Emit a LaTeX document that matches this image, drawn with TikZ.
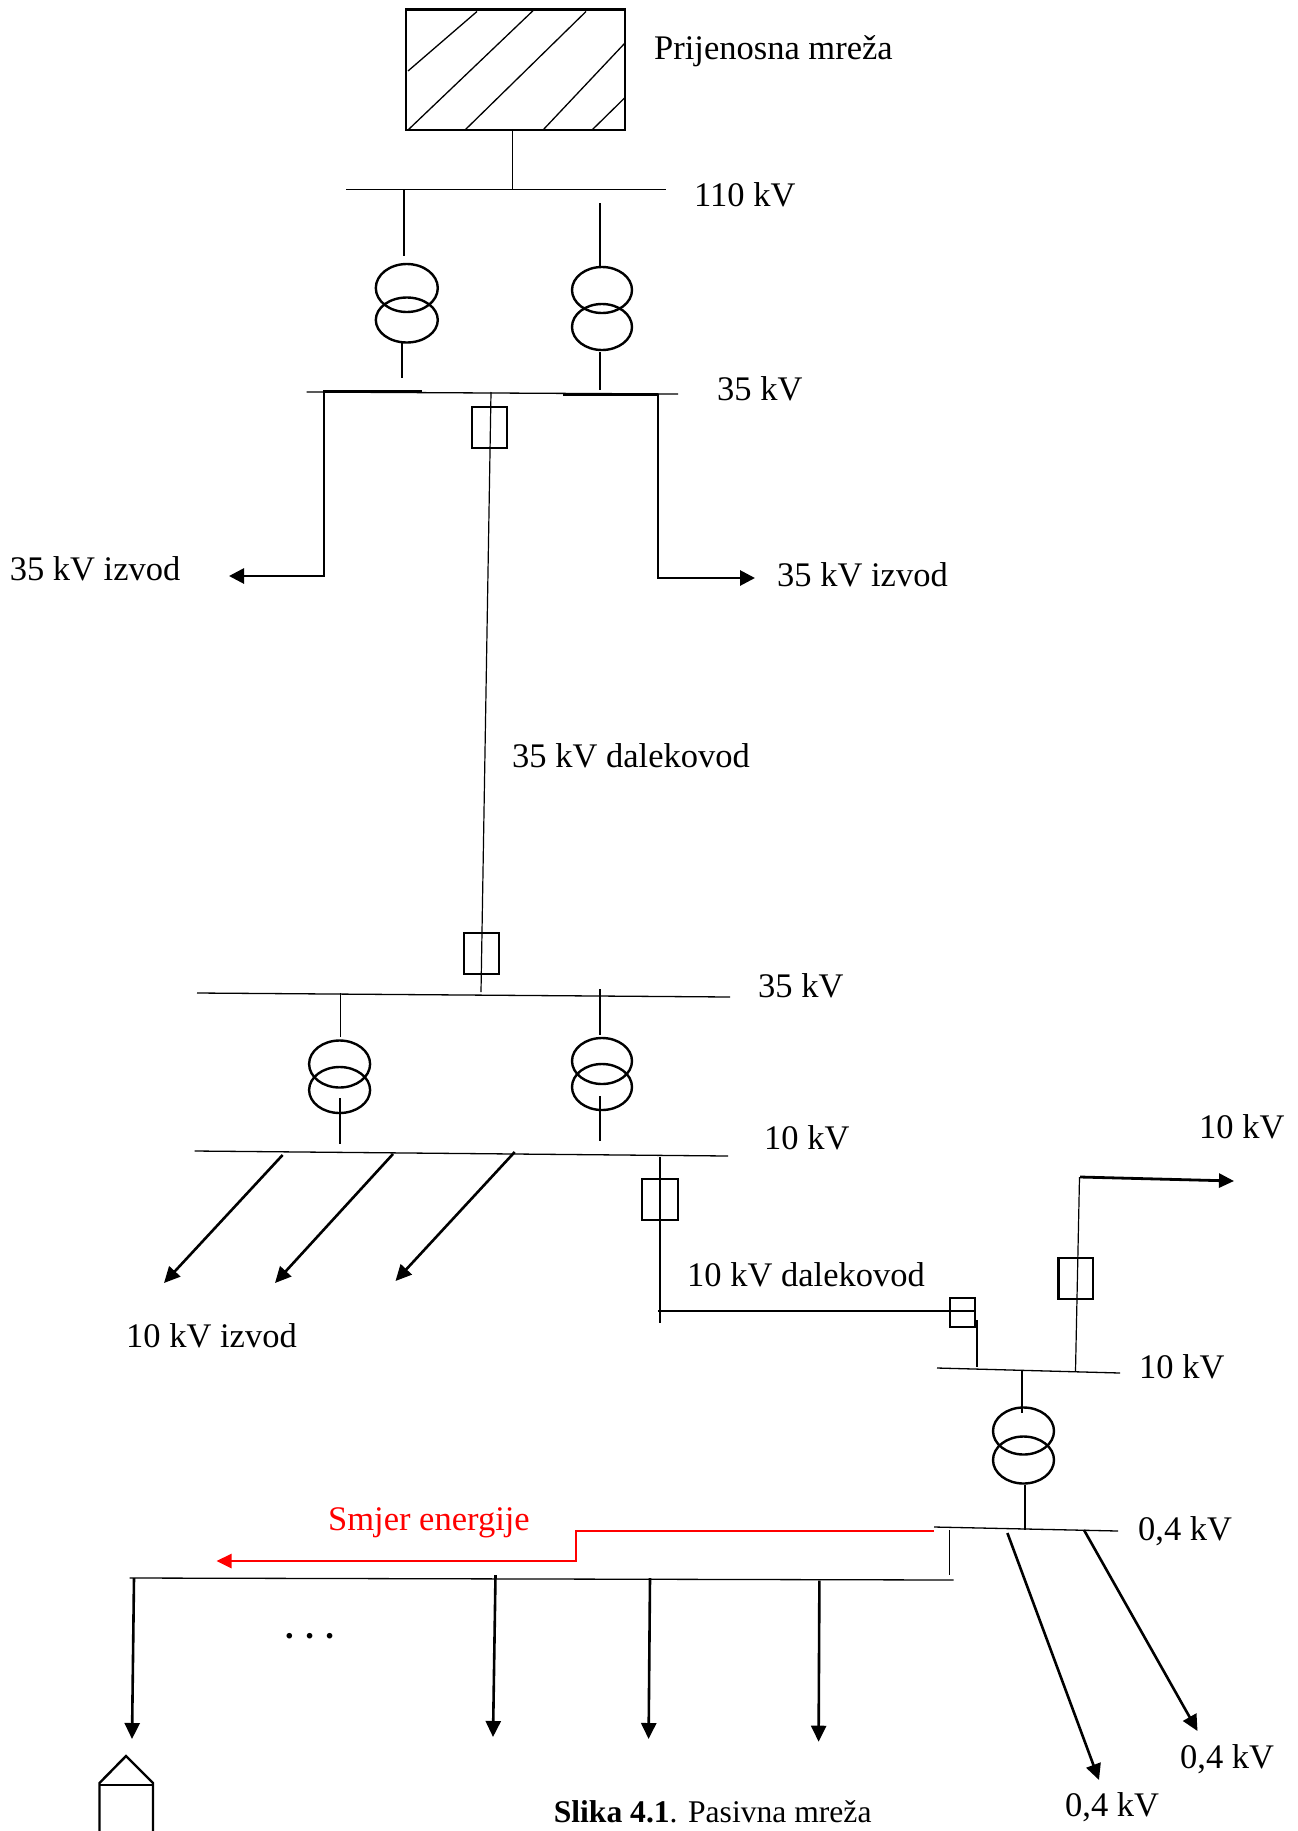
\documentclass[tikz,border=0pt]{standalone}
\usepackage{fontspec}
\setmainfont{Liberation Serif}
\usetikzlibrary{arrows.meta}
\begin{document}
\begin{tikzpicture}[x=1pt,y=-1pt,
  bus/.style={line width=1.3pt},
  wire/.style={line width=1.2pt},
  heavy/.style={line width=2.8pt},
  trafo/.style={line width=2.4pt},
  brk/.style={draw,rectangle,line width=2.4pt,inner sep=0pt},
  lbl/.style={anchor=base west,inner sep=0pt,font=\fontsize{34.5}{40}\selectfont},
  arr/.style={-{Triangle[length=16pt,width=15pt]},line width=2.6pt},
  redarr/.style={-{Triangle[length=15pt,width=14pt]},line width=2.5pt,draw=red}]
\fill[white] (0,0) rectangle (1298,1831);
\useasboundingbox (0,0) rectangle (1298,1831);

% ---------- transmission network ----------
\node[draw,rectangle,line width=2.8pt,inner sep=0pt,minimum width=219pt,minimum height=120.4pt] (grid) at (515.5,69.8) {};
\draw[line width=1.3pt] (408,71) -- (477,11.5)
  (408,130) -- (533,10.7)
  (465,130) -- (586,11.5)
  (543,130) -- (625,43)
  (592,130) -- (625,97.6);
\node[lbl] (lgrid) at (654,59) {Prijenosna mreža};

% 110 kV bus
\coordinate (b110a) at (346,189.5);
\coordinate (b110b) at (665.5,189.5);
\draw[bus] (b110a) -- (b110b);
\draw[wire] (grid.south -| 512.4,0) -- (512.4,189.5);
\node[lbl] (l110) at (694,206.7) {110 kV};

% transformers 110/35
\draw[wire] (404,190) -- (404,256);
\draw[trafo] (406.8,288) ellipse [x radius=31pt,y radius=24pt];
\draw[trafo] (406.8,320) ellipse [x radius=31pt,y radius=22.5pt];
\draw[wire] (402,343) -- (402,378);

\draw[wire] (600,203) -- (600,266);
\draw[trafo] (602,290) ellipse [x radius=30pt,y radius=23pt];
\draw[trafo] (602,327) ellipse [x radius=30pt,y radius=23pt];
\draw[wire] (600,352) -- (600,389.5);

% 35 kV bus (top)
\coordinate (b35a) at (306.7,392);
\coordinate (b35b) at (678,394);
\draw[bus] (b35a) -- (b35b);
\draw[heavy] (323,391.7) -- (422,391.7);
\draw[heavy] (563,394.3) -- (658,394.3);
\node[lbl] (l35a) at (717,400) {35 kV};

% 35 kV feeders
\draw[heavy,-{Triangle[length=15pt,width=15pt]}] (324,391.7) -- (324,576) -- (229,576);
\draw[heavy,-{Triangle[length=15pt,width=15pt]}] (658,394.3) -- (658,578) -- (755,578);
\node[lbl] (liz1) at (9.6,580) {35 kV izvod};
\node[lbl] (liz2) at (777,586) {35 kV izvod};

% 35 kV line
\node[brk,minimum width=35pt,minimum height=41pt] (cb1) at (489.2,427.5) {};
\node[brk,minimum width=35pt,minimum height=41pt] (cb2) at (481.4,953.5) {};
\draw[wire] (491,392) -- (481,992);
\node[lbl] (ldal35) at (512,767) {35 kV dalekovod};

% 35 kV bus (second substation)
\draw[bus] (197,993) -- (730,997);
\node[lbl] (l35b) at (758,997) {35 kV};

% transformers 35/10
\draw[wire] (340.6,993) -- (340.6,1037);
\draw[trafo] (339.6,1064) ellipse [x radius=30.5pt,y radius=23.5pt];
\draw[trafo] (339.6,1090) ellipse [x radius=30.5pt,y radius=23pt];
\draw[wire] (340,1098) -- (340,1144);

\draw[wire] (600,989) -- (600,1035);
\draw[trafo] (602,1061) ellipse [x radius=30pt,y radius=23pt];
\draw[trafo] (602,1087) ellipse [x radius=30pt,y radius=23pt];
\draw[wire] (600,1096) -- (600,1141);

% 10 kV bus
\draw[bus] (194.6,1151) -- (728,1156);
\node[lbl] (l10a) at (764,1149) {10 kV};

% 10 kV feeders
\draw[arr] (282.6,1155) -- (164,1283);
\draw[arr] (393,1154) -- (275,1283);
\draw[arr] (514.7,1152) -- (395.5,1281);
\node[lbl] (liz10) at (126,1347) {10 kV izvod};

% 10 kV line
\node[brk,minimum width=36pt,minimum height=41pt] (cb3) at (660,1199.5) {};
\draw[wire] (660,1157) -- (660,1323);
\draw[wire] (658,1311) -- (974,1311);
\node[brk,minimum width=25pt,minimum height=29pt] (cb4) at (962.5,1312.5) {};
\draw[wire] (977,1320) -- (977,1367);
\node[lbl] (ldal10) at (687,1286) {10 kV dalekovod};

% 10 kV bus (distribution substation)
\draw[bus] (937,1368) -- (1120,1373);
\node[lbl] (l10b) at (1139,1378) {10 kV};
\node[brk,minimum width=34.4pt,minimum height=41pt] (cb5) at (1075.8,1278.5) {};
\draw[wire] (1075.5,1371) -- (1079.5,1177);
\draw[heavy,-{Triangle[length=15pt,width=14pt]}] (1080,1177) -- (1234,1181);
\node[lbl] (l10c) at (1199,1138) {10 kV};

% transformer 10/0.4
\draw[wire] (1022,1371) -- (1022,1413);
\draw[trafo] (1023.5,1431) ellipse [x radius=30.5pt,y radius=23.5pt];
\draw[trafo] (1023.5,1460) ellipse [x radius=30.5pt,y radius=23.5pt];
\draw[wire] (1025,1485) -- (1025,1530);

% 0,4 kV bus
\draw[bus] (934,1527) -- (1118,1531);
\node[lbl] (l04a) at (1138,1540) {0,4 kV};
\draw[arr] (1007.4,1533) -- (1099,1780);
\draw[arr] (1084,1530) -- (1197.5,1731);
\node[lbl] (l04b) at (1180,1768) {0,4 kV};
\node[lbl] (l04c) at (1065,1816) {0,4 kV};

% energy direction
\draw[redarr] (934,1531) -- (576,1531) -- (576,1561) -- (216.5,1561);
\node[lbl,text=red] (lsmjer) at (328,1530) {Smjer energije};

% low-voltage feeder
\draw[wire] (949.6,1530) -- (949.6,1575);
\draw[bus] (129.5,1578) -- (953.7,1580);
\draw[arr] (134,1578) -- (132,1739);
\draw[arr] (495.5,1575) -- (493,1737);
\draw[arr] (650,1578) -- (648.6,1739);
\draw[arr] (819.4,1580.7) -- (818.6,1741.7);
\node[lbl] (ldots) at (285,1638) {\textbf{. . .}};

% house
\draw[line width=2.4pt,line join=miter] (99.5,1835) -- (99.5,1783) -- (126,1756) -- (153,1783) -- (153,1835);
\draw[line width=1.6pt] (99.5,1785) -- (153,1785);

% caption
\node[anchor=base west,inner sep=0pt,font=\fontsize{31.6}{36}\selectfont] (cap) at (553.6,1822) {\textbf{Slika 4.1}. Pasivna mreža};
\end{tikzpicture}
\end{document}
